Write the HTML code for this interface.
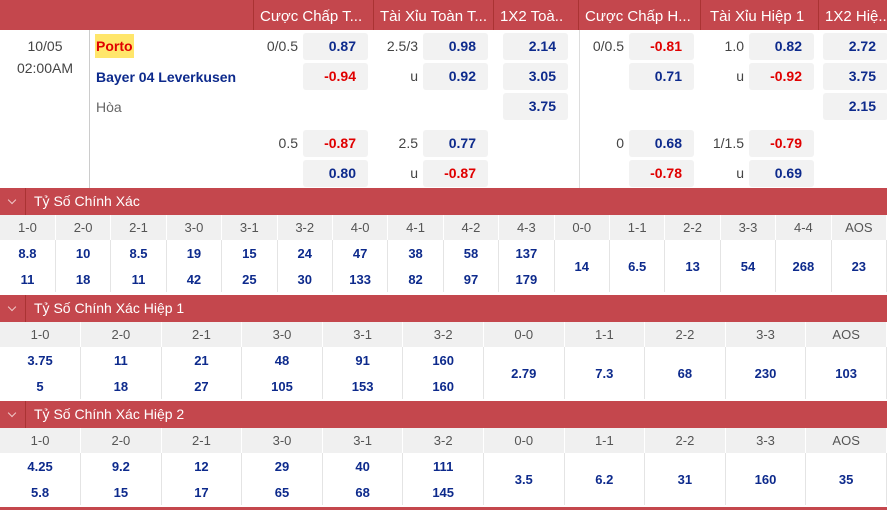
<!DOCTYPE html><html><head><meta charset="utf-8"><style>
body{margin:0;width:887px;height:510px;overflow:hidden;background:#fff;font-family:"Liberation Sans","DejaVu Sans",sans-serif;position:relative}
.a{position:absolute}
.hd{background:#c4474d;color:#fff;font-size:15px}
.box{position:absolute;background:#f2f2f2;border-radius:3px;width:65px;height:27px;line-height:27px;text-align:right;box-sizing:border-box;padding-right:12px;font-weight:bold;font-size:14px;color:#0d2a8c}
.r{color:#e00000}
.lb{position:absolute;text-align:right;width:60px;font-size:14px;color:#444;line-height:27px}
table{position:absolute;left:0;width:887px;border-collapse:collapse;table-layout:fixed}
td{text-align:center;font-size:13px;padding:0;border-right:1px solid #e4e4e4}
tr.h td{background:#f0f0f0;color:#555;height:25px;border-right:1px solid #fff}
tr.v td{color:#0d2a8c;font-weight:bold;height:26px}
.sec{position:absolute;left:0;width:887px;height:27px;background:#c4474d;color:#fff;font-size:14px;line-height:27px}
.sec span.c{position:absolute;left:0;width:25px;border-right:1px solid #a33;height:27px}
.sec span.c:after{content:"";position:absolute;left:9px;top:9px;width:5px;height:5px;border-right:1px solid #f0c8c8;border-bottom:1px solid #f0c8c8;transform:rotate(45deg)}
.sec span.t{position:absolute;left:34px}
</style></head><body>
<div class="a hd" style="left:0;top:0;width:887px;height:30px"></div>
<div class="a" style="left:253px;top:0;width:1px;height:30px;background:#a33"></div>
<div class="a" style="left:373px;top:0;width:1px;height:30px;background:#a33"></div>
<div class="a" style="left:493px;top:0;width:1px;height:30px;background:#a33"></div>
<div class="a" style="left:578px;top:0;width:1px;height:30px;background:#a33"></div>
<div class="a" style="left:700px;top:0;width:1px;height:30px;background:#a33"></div>
<div class="a" style="left:818px;top:0;width:1px;height:30px;background:#a33"></div>
<div class="a" style="left:260px;top:8px;color:#fff;font-size:15px">Cược Chấp T...</div>
<div class="a" style="left:380px;top:8px;color:#fff;font-size:15px">Tài Xỉu Toàn T...</div>
<div class="a" style="left:500px;top:8px;color:#fff;font-size:15px">1X2 Toà..</div>
<div class="a" style="left:585px;top:8px;color:#fff;font-size:15px">Cược Chấp H...</div>
<div class="a" style="left:710px;top:8px;color:#fff;font-size:15px">Tài Xỉu Hiệp 1</div>
<div class="a" style="left:825px;top:8px;color:#fff;font-size:15px;white-space:nowrap">1X2 Hiệ...</div>

<div class="a" style="left:0;top:35px;width:90px;text-align:center;font-size:14px;color:#444;line-height:22px">10/05<br>02:00AM</div>
<div class="a" style="left:89px;top:30px;width:1px;height:158px;background:#ccc"></div>
<div class="a" style="left:579px;top:30px;width:1px;height:158px;background:#ddd"></div>
<div class="a" style="left:95px;top:34px;background:#ffe66b;color:#e00000;font-weight:bold;font-size:14px;padding:1px 1px;line-height:22px">Porto</div>
<div class="a" style="left:96px;top:66px;color:#0d2a8c;font-weight:bold;font-size:14px;line-height:22px">Bayer 04 Leverkusen</div>
<div class="a" style="left:96px;top:96px;color:#666;font-size:14px;line-height:22px">Hòa</div>

<div class="lb" style="left:238px;top:33px">0/0.5</div><div class="box" style="left:303px;top:33px">0.87</div>
<div class="box r" style="left:303px;top:63px">-0.94</div>
<div class="lb" style="left:238px;top:130px">0.5</div><div class="box r" style="left:303px;top:130px">-0.87</div>
<div class="box" style="left:303px;top:160px">0.80</div>

<div class="lb" style="left:358px;top:33px">2.5/3</div><div class="box" style="left:423px;top:33px">0.98</div>
<div class="lb" style="left:358px;top:63px">u</div><div class="box" style="left:423px;top:63px">0.92</div>
<div class="lb" style="left:358px;top:130px">2.5</div><div class="box" style="left:423px;top:130px">0.77</div>
<div class="lb" style="left:358px;top:160px">u</div><div class="box r" style="left:423px;top:160px">-0.87</div>

<div class="box" style="left:503px;top:33px">2.14</div>
<div class="box" style="left:503px;top:63px">3.05</div>
<div class="box" style="left:503px;top:93px">3.75</div>

<div class="lb" style="left:564px;top:33px">0/0.5</div><div class="box r" style="left:629px;top:33px">-0.81</div>
<div class="box" style="left:629px;top:63px">0.71</div>
<div class="lb" style="left:564px;top:130px">0</div><div class="box" style="left:629px;top:130px">0.68</div>
<div class="box r" style="left:629px;top:160px">-0.78</div>

<div class="lb" style="left:684px;top:33px">1.0</div><div class="box" style="left:749px;top:33px">0.82</div>
<div class="lb" style="left:684px;top:63px">u</div><div class="box r" style="left:749px;top:63px">-0.92</div>
<div class="lb" style="left:684px;top:130px">1/1.5</div><div class="box r" style="left:749px;top:130px">-0.79</div>
<div class="lb" style="left:684px;top:160px">u</div><div class="box" style="left:749px;top:160px">0.69</div>

<div class="box" style="left:823px;top:33px">2.72</div>
<div class="box" style="left:823px;top:63px">3.75</div>
<div class="box" style="left:823px;top:93px">2.15</div>

<div class="sec" style="top:188px"><span class="c"></span><span class="t">Tỷ Số Chính Xác</span></div>
<table style="top:215px">
<tr class="h"><td>1-0</td><td>2-0</td><td>2-1</td><td>3-0</td><td>3-1</td><td>3-2</td><td>4-0</td><td>4-1</td><td>4-2</td><td>4-3</td><td>0-0</td><td>1-1</td><td>2-2</td><td>3-3</td><td>4-4</td><td>AOS</td></tr>
<tr class="v"><td>8.8</td><td>10</td><td>8.5</td><td>19</td><td>15</td><td>24</td><td>47</td><td>38</td><td>58</td><td>137</td><td rowspan="2">14</td><td rowspan="2">6.5</td><td rowspan="2">13</td><td rowspan="2">54</td><td rowspan="2">268</td><td rowspan="2">23</td></tr>
<tr class="v"><td>11</td><td>18</td><td>11</td><td>42</td><td>25</td><td>30</td><td>133</td><td>82</td><td>97</td><td>179</td></tr>
</table>

<div class="sec" style="top:295px"><span class="c"></span><span class="t">Tỷ Số Chính Xác Hiệp 1</span></div>
<table style="top:322px">
<tr class="h"><td>1-0</td><td>2-0</td><td>2-1</td><td>3-0</td><td>3-1</td><td>3-2</td><td>0-0</td><td>1-1</td><td>2-2</td><td>3-3</td><td>AOS</td></tr>
<tr class="v"><td>3.75</td><td>11</td><td>21</td><td>48</td><td>91</td><td>160</td><td rowspan="2">2.79</td><td rowspan="2">7.3</td><td rowspan="2">68</td><td rowspan="2">230</td><td rowspan="2">103</td></tr>
<tr class="v"><td>5</td><td>18</td><td>27</td><td>105</td><td>153</td><td>160</td></tr>
</table>

<div class="sec" style="top:401px"><span class="c"></span><span class="t">Tỷ Số Chính Xác Hiệp 2</span></div>
<table style="top:428px">
<tr class="h"><td>1-0</td><td>2-0</td><td>2-1</td><td>3-0</td><td>3-1</td><td>3-2</td><td>0-0</td><td>1-1</td><td>2-2</td><td>3-3</td><td>AOS</td></tr>
<tr class="v"><td>4.25</td><td>9.2</td><td>12</td><td>29</td><td>40</td><td>111</td><td rowspan="2">3.5</td><td rowspan="2">6.2</td><td rowspan="2">31</td><td rowspan="2">160</td><td rowspan="2">35</td></tr>
<tr class="v"><td>5.8</td><td>15</td><td>17</td><td>65</td><td>68</td><td>145</td></tr>
</table>
<div class="a" style="left:0;top:507px;width:887px;height:3px;background:#c4474d"></div>
</body></html>
